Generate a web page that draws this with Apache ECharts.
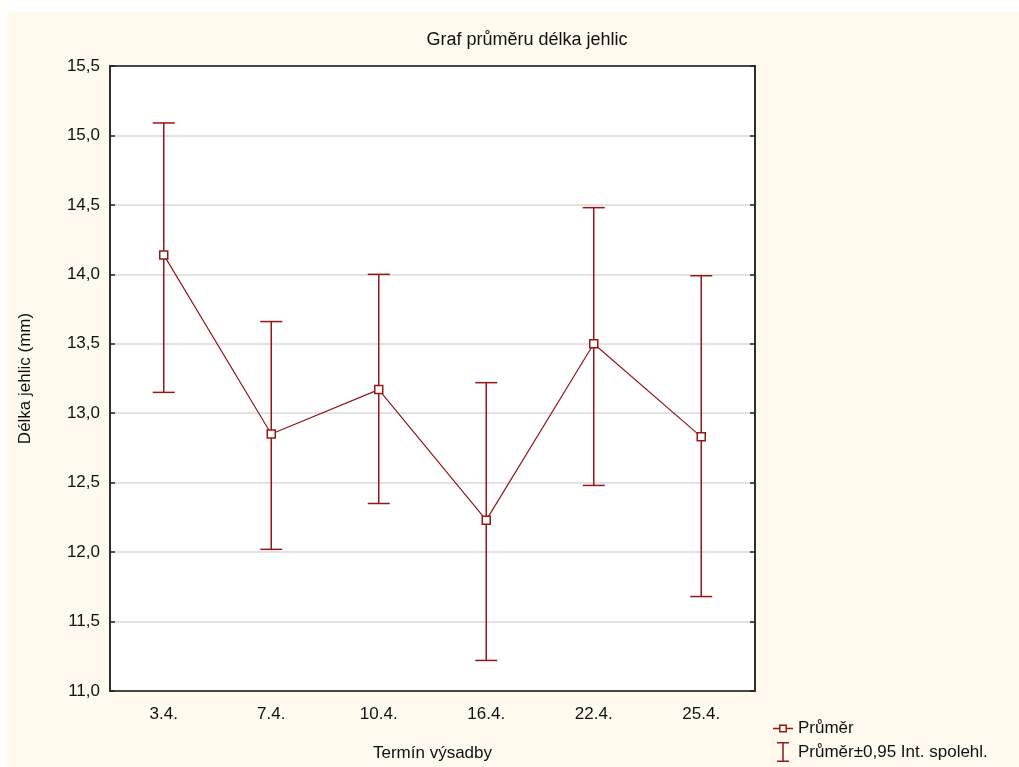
<!DOCTYPE html>
<html>
<head>
<meta charset="utf-8">
<script src="https://cdn.jsdelivr.net/npm/echarts@6/dist/echarts.min.js"></script>
<style>
  html, body { margin: 0; padding: 0; background: #ffffff; }
  #chart { width: 1019px; height: 767px; }
</style>
</head>
<body>
<div id="chart"></div>
<script>
// Termíny výsadby a průměrné délky jehlic
const categories = ["3.4.", "7.4.", "10.4.", "16.4.", "22.4.", "25.4."];
const means = [14.14, 12.85, 13.17, 12.23, 13.50, 12.83];
const lower = [13.15, 12.02, 12.35, 11.22, 12.48, 11.68];
const upper = [15.09, 13.66, 14.00, 13.22, 14.48, 13.99];

const red = "#931818";
const font = "Liberation Sans, Arial, sans-serif";

const chart = echarts.init(document.getElementById("chart"), null, { renderer: "canvas" });

const errData = categories.map((c, i) => [i, lower[i], upper[i]]);

chart.setOption({
  animation: false,
  backgroundColor: "#ffffff",
  textStyle: { fontFamily: font },
  graphic: [{
    type: "rect", z: -10, silent: true,
    shape: { x: 7, y: 12, width: 1012, height: 755 },
    style: { fill: "#fff9ee" }
  }],
  title: {
    text: "Graf průměru délka jehlic",
    left: 522, top: 26, textAlign: "center",
    textStyle: { fontSize: 18, fontWeight: "normal", color: "#111", fontFamily: font }
  },
  legend: {
    left: 773, top: 720, orient: "vertical", itemGap: 5, padding: 0,
    itemWidth: 20, itemHeight: 20,
    textStyle: { fontSize: 17, color: "#111", fontFamily: font },
    data: [
      {
        name: "Průměr",
        icon: "path://M0,9.25h6v1.5h-6z M6,6h8v8h-8z M7.5,7.5v5h5v-5z M14,9.25h6v1.5h-6z",
        itemStyle: { color: red, borderWidth: 0 }
      },
      {
        name: "Průměr±0,95 Int. spolehl.",
        icon: "path://M0,0h12v1.5h-5.25v17h5.25v1.5h-12v-1.5h5.25v-17h-5.25z",
        itemStyle: { color: red }
      }
    ]
  },
  grid: {
    left: 110, right: 264, top: 66, bottom: 76,
    show: true, backgroundColor: "#ffffff", borderColor: "#222", borderWidth: 1.5
  },
  xAxis: [{
    type: "category", data: categories, position: "bottom",
    name: "Termín výsadby", nameLocation: "middle", nameGap: 54,
    nameTextStyle: { fontSize: 17, color: "#111", fontFamily: font },
    axisLine: { lineStyle: { color: "#222", width: 1.5 } },
    axisTick: { alignWithLabel: true, inside: true, length: 5, lineStyle: { color: "#222", width: 1.5 } },
    axisLabel: { fontSize: 17, color: "#111", margin: 15, fontFamily: font },
    splitLine: { show: false }
  }, {
    type: "category", data: categories, position: "top",
    axisLine: { lineStyle: { color: "#222", width: 1.5 } },
    axisTick: { alignWithLabel: true, inside: true, length: 5, lineStyle: { color: "#222", width: 1.5 } },
    axisLabel: { show: false },
    splitLine: { show: false }
  }],
  yAxis: [{
    type: "value", min: 11, max: 15.5, interval: 0.5, position: "left",
    name: "Délka jehlic (mm)", nameLocation: "middle", nameGap: 76,
    nameTextStyle: { fontSize: 17, color: "#111", fontFamily: font },
    axisLine: { show: true, lineStyle: { color: "#222", width: 1.5 } },
    axisTick: { show: true, inside: true, length: 5, lineStyle: { color: "#222", width: 1.5 } },
    axisLabel: {
      fontSize: 17, color: "#111", margin: 10, fontFamily: font,
      formatter: v => v.toFixed(1).replace(".", ",")
    },
    splitLine: { show: true, lineStyle: { color: "#d8d8d8", width: 1.5 } }
  }, {
    type: "value", min: 11, max: 15.5, interval: 0.5, position: "right",
    axisLine: { show: true, lineStyle: { color: "#222", width: 1.5 } },
    axisTick: { show: true, inside: true, length: 5, lineStyle: { color: "#222", width: 1.5 } },
    axisLabel: { show: false },
    splitLine: { show: false }
  }],
  series: [{
    name: "Průměr",
    type: "line",
    data: means,
    symbol: "rect", symbolSize: 8,
    itemStyle: { color: "#ffffff", borderColor: red, borderWidth: 1.5 },
    lineStyle: { color: red, width: 1.2 },
    z: 5
  }, {
    name: "Průměr±0,95 Int. spolehl.",
    type: "custom",
    data: errData,
    itemStyle: { color: red },
    encode: { x: 0, y: [1, 2] },
    renderItem: function (params, api) {
      const x = api.value(0);
      const lo = api.coord([x, api.value(1)]);
      const hi = api.coord([x, api.value(2)]);
      const hw = 11;
      const st = { stroke: red, lineWidth: 1.5, fill: null };
      return {
        type: "group",
        children: [
          { type: "line", shape: { x1: hi[0], y1: hi[1], x2: lo[0], y2: lo[1] }, style: st },
          { type: "line", shape: { x1: hi[0] - hw, y1: hi[1], x2: hi[0] + hw, y2: hi[1] }, style: st },
          { type: "line", shape: { x1: lo[0] - hw, y1: lo[1], x2: lo[0] + hw, y2: lo[1] }, style: st }
        ]
      };
    },
    z: 4
  }]
});
</script>
</body>
</html>
